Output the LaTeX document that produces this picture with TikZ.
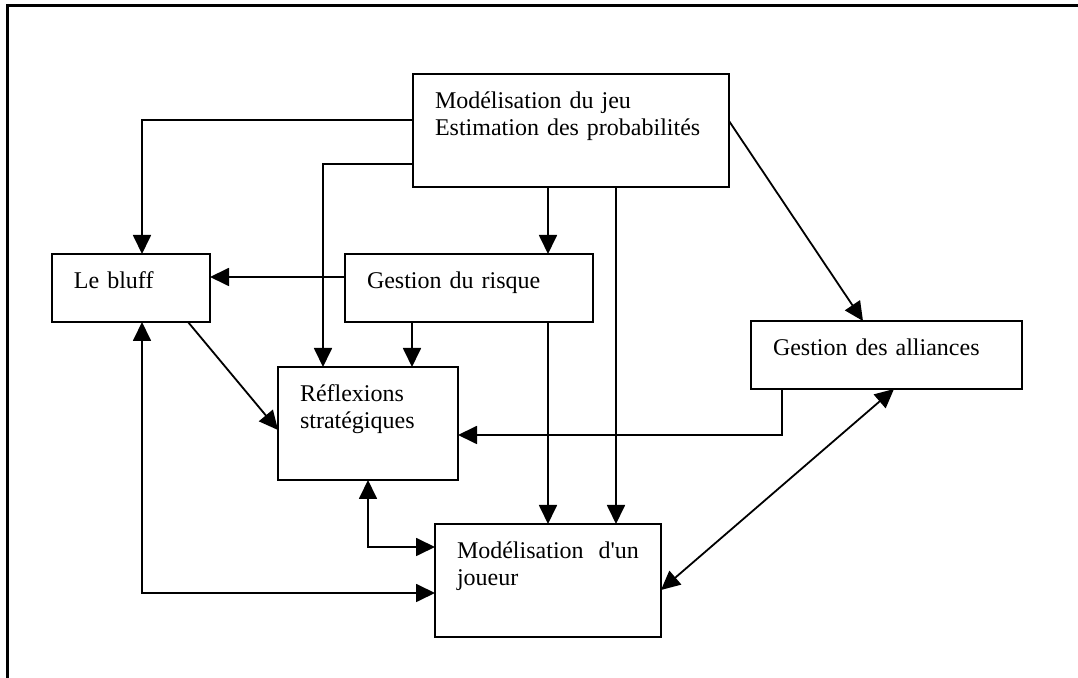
\documentclass[tikz,border=0pt]{standalone}
\usepackage{fontspec}
\setmainfont{Liberation Serif}
\usepackage{tikz}
\usetikzlibrary{arrows.meta,calc}
\newcommand\pokerFont{\fontsize{12}{13.5}\selectfont\tolerance 9999\relax\hyphenpenalty 10000\relax}
\tikzset{
  pokerBox/.style={draw, line width=1pt, anchor=north west, align=left, font=\pokerFont, inner xsep=11pt, inner ysep=0pt, outer sep=0pt, text height=17.5pt},
  pokerSmall/.style={pokerBox, text depth=16.5pt},
  pokerBig/.style={pokerBox, text depth=39pt},
  pokerArrow/.style={-{Triangle[length=9.5pt,width=9pt]}, line width=0.9pt},
  pokerDoubleArrow/.style={{Triangle[length=9.5pt,width=9pt]}-{Triangle[length=9.5pt,width=9pt]}, line width=0.9pt},
  pokerFrame/.style={line width=1.5pt}
}

\begin{document}
\begin{tikzpicture}[x=0.5pt, y=-0.5pt]
      \useasboundingbox (0,0) rectangle (1078,678);
      \draw[pokerFrame] (7,678) -- (7,6) -- (1078,6);
      % boxes
      \node[pokerBig, text width=136pt] (jeu) at (413,74) {Modélisation du jeu\\Estimation des probabilités};
      \node[pokerSmall, text width=57pt] (bluff) at (52,254) {Le bluff};
      \node[pokerSmall, text width=102pt] (risque) at (345,254) {Gestion du risque};
      \node[pokerBig, text width=68pt] (reflex) at (278,367) {Réflexions stratégiques};
      \node[pokerBig, text width=91pt, align=justify] (joueur) at (435,524) {Modélisation d\textquotesingle un joueur};
      \node[pokerSmall, text width=113.5pt] (alliances) at (751,321) {Gestion des alliances};
      % links
      \draw[pokerArrow] ($(jeu.north west)+(0,46)$) -| ($(bluff.north west)+(90,0)$);
      \draw[pokerArrow] ($(jeu.north west)+(0,90)$) -| ($(reflex.north west)+(45,0)$);
      \draw[pokerArrow] ($(jeu.south west)+(135,0)$) coordinate (jr) -- (jr |- risque.north);
      \draw[pokerArrow] ($(jeu.south west)+(203,0)$) coordinate (jj) -- (jj |- joueur.north);
      \draw[pokerArrow] ($(jeu.north east)+(0,47)$) -- ($(alliances.north west)+(112,0)$);
      \draw[pokerArrow] ($(risque.north west)+(0,23)$) coordinate (rb) -- (rb -| bluff.east);
      \draw[pokerArrow] ($(risque.south west)+(67,0)$) coordinate (rr) -- (rr |- reflex.north);
      \draw[pokerArrow] ($(risque.south west)+(203,0)$) coordinate (rj) -- (rj |- joueur.north);
      \draw[pokerArrow] ($(bluff.south west)+(136,0)$) -- ($(reflex.north west)+(0,63)$);
      \draw[pokerArrow] ($(alliances.south west)+(31,0)$) |- ($(reflex.north east)+(0,68)$);
      \draw[pokerDoubleArrow] (reflex.south) |- ($(joueur.north west)+(0,23)$);
      \draw[pokerDoubleArrow] ($(bluff.south west)+(90,0)$) |- ($(joueur.north west)+(0,69)$);
      \draw[pokerDoubleArrow] ($(alliances.south west)+(143,0)$) -- ($(joueur.north east)+(0,66)$);
    \end{tikzpicture}
\end{document}
